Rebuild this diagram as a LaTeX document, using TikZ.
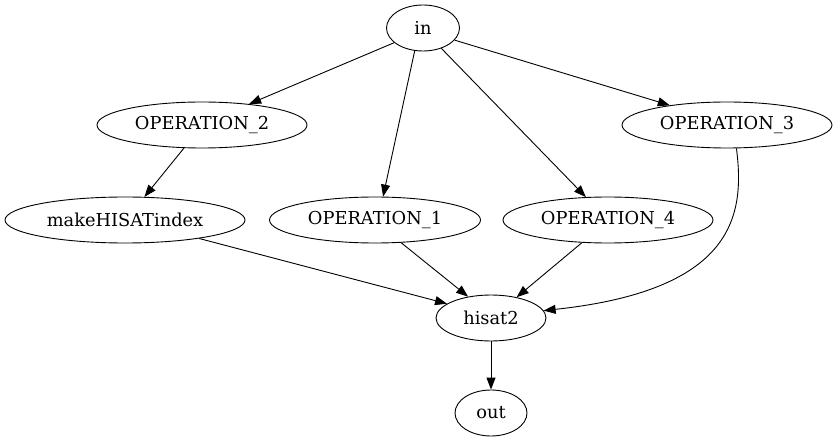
\documentclass[tikz,border=0pt]{standalone}
\usepackage{fontspec}
\setmainfont{DejaVu Serif}
\usetikzlibrary{shapes.geometric,arrows.meta}
\newcommand{\zw}[1]{\makebox[0pt]{#1}}
\begin{document}
\begin{tikzpicture}[x=1pt,y=-1pt,
  gnode/.style={draw,ellipse,line width=0.9pt,inner sep=0pt,minimum height=46pt,font=\fontsize{17.8}{19}\selectfont},
  edge/.style={line width=0.9pt,-{Triangle[length=12pt,width=9pt]}}]
\useasboundingbox (0,0) rectangle (837,443);
\node[gnode,minimum width=73pt] (in) at (423,28) {\zw{in}};
\node[gnode,minimum width=210pt] (op2) at (202,125) {\zw{OPERATION\_2}};
\node[gnode,minimum width=210pt] (op3) at (727,125) {\zw{OPERATION\_3}};
\node[gnode,minimum width=240pt] (mk) at (125,220) {\zw{makeHISATindex}};
\node[gnode,minimum width=211pt] (op1) at (375,220) {\zw{OPERATION\_1}};
\node[gnode,minimum width=210pt] (op4) at (608,220) {\zw{OPERATION\_4}};
\node[gnode,minimum width=110pt] (hs) at (491,318) {\zw{hisat2}};
\node[gnode,minimum width=72pt] (out) at (491,413) {\zw{out}};
\draw[edge] (in.-153) -- (op2.24);
\draw[edge] (in.-110) -- (op1.71);
\draw[edge] (in.-48) -- (op4.134);
\draw[edge] (in.-21) -- (op3.161);
\draw[edge] (op2.-128) -- (mk.50);
\draw[edge] (mk.-14) -- (hs.162);
\draw[edge] (op1.-41) -- (hs.137);
\draw[edge] (op4.-139) -- (hs.39);
\draw[edge] (op3.-68) .. controls (745,215) and (735,290) .. (hs.8);
\draw[edge] (hs) -- (out);
\end{tikzpicture}
\end{document}
